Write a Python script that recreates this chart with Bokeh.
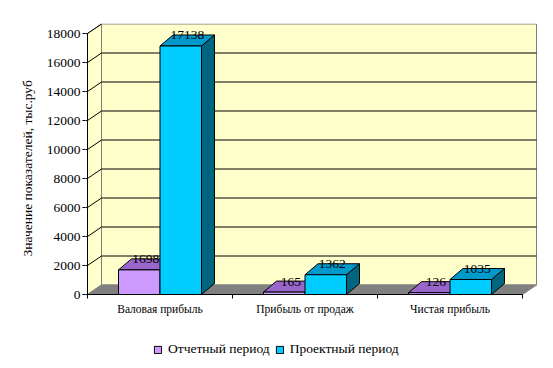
from bokeh.plotting import figure
from bokeh.models import (Range1d, FixedTicker, Legend, LegendItem, Title)
from bokeh.core.properties import value
from bokeh.embed import file_html
from bokeh.resources import INLINE

# ---- data ----
categories = ["Валовая прибыль", "Прибыль от продаж", "Чистая прибыль"]
series_names = ["Отчетный период", "Проектный период"]
otchet = [1698, 165, 126]
proekt = [17138, 1362, 1035]
y_ticks = [0, 2000, 4000, 6000, 8000, 10000, 12000, 14000, 16000, 18000]
y_title = "Значение показателей, тыс.руб"

# ---- geometry / style ----
VPX = 18000 / 261.0       # value units per pixel
CPX = 1 / 145.0           # category units per pixel
WDX, WDY = 14 * CPX, 9.5 * VPX   # wall depth
BDX, BDY = 13 * CPX, 11 * VPX    # bar depth
BW = 41.5 / 145.0
YMAX = y_ticks[-1]
N = len(categories)
FONT = "Liberation Serif"

front_cols = ["#CC99FF", "#00CCFF"]
top_cols = ["#9966CC", "#0099CC"]
side_cols = ["#7A52A3", "#006680"]

p = figure(width=553, height=368, output_backend="svg", toolbar_location=None,
           x_range=Range1d(-2 * CPX, (553 - 87) * CPX),
           y_range=Range1d(-(368 - 294) * VPX, (294 - 23) * VPX),
           min_border_left=85, min_border_right=0, min_border_top=23,
           min_border_bottom=0)
p.outline_line_color = None
p.grid.visible = False
p.xaxis.visible = False
p.background_fill_color = "white"
p.border_fill_color = "white"

# walls and floor
p.quad(left=[WDX], right=[N + WDX], bottom=[WDY], top=[YMAX + WDY],
       fill_color="#FFFFCC", line_color="#808080", line_width=1)
p.patch([0, WDX, WDX, 0], [0, WDY, YMAX + WDY, YMAX],
        fill_color="#FFFFCC", line_color="#808080", line_width=1)
p.patch([0, N, N + WDX, WDX], [0, 0, WDY, WDY],
        fill_color="#808080", line_color="#808080", line_width=1)

# gridlines
gt = [t for t in y_ticks if 0 < t < YMAX]
p.segment(x0=[WDX] * len(gt), y0=[t + WDY for t in gt],
          x1=[N + WDX] * len(gt), y1=[t + WDY for t in gt],
          line_color="black", line_width=1)
st = [t for t in y_ticks if t > 0]
p.segment(x0=[0] * len(st), y0=st, x1=[WDX] * len(st), y1=[t + WDY for t in st],
          line_color="black", line_width=1)
p.segment(x0=[-2 * CPX] * len(y_ticks), y0=y_ticks, x1=[0] * len(y_ticks), y1=y_ticks,
          line_color="black", line_width=1)
# axis lines and category ticks
p.segment(x0=[0], y0=[0], x1=[0], y1=[YMAX], line_color="black", line_width=1)
p.segment(x0=[0], y0=[0], x1=[N], y1=[0], line_color="black", line_width=1)
xb = list(range(N + 1))
p.segment(x0=xb, y0=[0] * len(xb), x1=xb, y1=[-4 * VPX] * len(xb),
          line_color="black", line_width=1)

# 3D bars
fronts = []
for s, vals in enumerate([otchet, proekt]):
    x0s = [i + 0.5 - BW + s * BW for i in range(N)]
    x1s = [x + BW for x in x0s]
    side_xs = [[b, b + BDX, b + BDX, b] for b in x1s]
    side_ys = [[0, BDY, v + BDY, v] for v in vals]
    top_xs = [[a, b, b + BDX, a + BDX] for a, b in zip(x0s, x1s)]
    top_ys = [[v, v, v + BDY, v + BDY] for v in vals]
    p.patches(side_xs, side_ys, fill_color=side_cols[s], line_color="black", line_width=1)
    p.patches(top_xs, top_ys, fill_color=top_cols[s], line_color="black", line_width=1)
    r = p.quad(left=x0s, right=x1s, bottom=[0] * N, top=vals,
               fill_color=front_cols[s], line_color="black", line_width=1)
    fronts.append(r)

# data labels
for s, vals in enumerate([otchet, proekt]):
    cx = [i + 0.5 - BW / 2 + s * BW + BDX / 2 for i in range(N)]
    cy = [v + 10.5 * VPX for v in vals]
    p.text(x=cx, y=cy, text=[str(v) for v in vals], text_font=value(FONT),
           text_font_size="13.5px", text_align="center", text_baseline="middle",
           text_color="black")

# category labels
p.text(x=[i + 0.5 for i in range(N)], y=[-14 * VPX] * N, text=categories,
       text_font=value(FONT), text_font_size="11.5px", text_align="center",
       text_baseline="middle", text_color="black")

# y axis
ya = p.yaxis[0]
ya.ticker = FixedTicker(ticks=y_ticks)
ya.axis_line_color = None
ya.major_tick_out = 3
ya.major_tick_in = 0
ya.minor_tick_line_color = None
ya.major_tick_line_color = "black"
ya.major_label_text_font = FONT
ya.major_label_text_font_size = "13.5px"
ya.major_label_text_color = "black"
ya.major_label_standoff = 2

ytitle = Title(text=y_title, align="left", offset=112, text_font=FONT,
               text_font_size="13.5px", text_font_style="normal", text_color="black",
               standoff=17)
p.add_layout(ytitle, "left")

legend = Legend(items=[LegendItem(label=series_names[i], renderers=[fronts[i]]) for i in range(2)],
                orientation="horizontal", location=(68, 11),
                glyph_width=9, glyph_height=9, label_standoff=6, spacing=5,
                padding=0, margin=0, border_line_color=None, background_fill_alpha=0,
                label_text_font=FONT, label_text_font_size="13.5px",
                label_text_color="black")
p.add_layout(legend)

open("out.html", "w").write(file_html(p, INLINE))
